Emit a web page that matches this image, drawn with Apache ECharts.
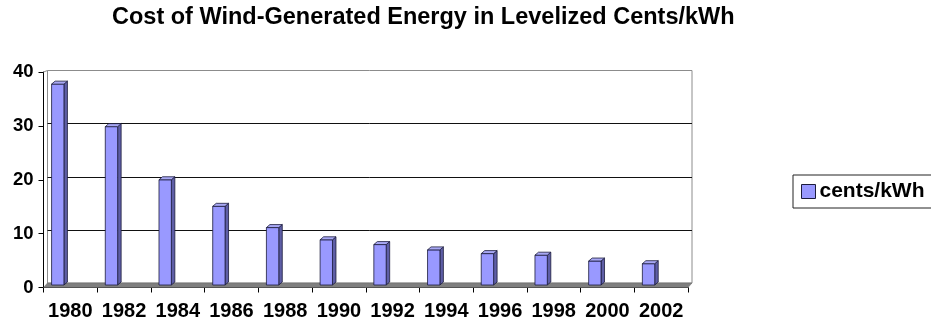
<!DOCTYPE html>
<html>
<head>
<meta charset="utf-8">
<script src="https://cdn.jsdelivr.net/npm/echarts@6/dist/echarts.min.js"></script>
<style>
  html, body { margin: 0; padding: 0; background: #fff; }
  #chart { width: 931px; height: 328px; }
</style>
</head>
<body>
<div id="chart"></div>
<script>
// Levelized cost of wind-generated energy, cents/kWh
const years = ['1980', '1982', '1984', '1986', '1988', '1990', '1992', '1994', '1996', '1998', '2000', '2002'];
const cents = [38, 30, 20, 15, 11, 8.7, 7.8, 6.8, 6.1, 5.8, 4.7, 4.2];
const seriesName = 'cents/kWh';
const yMax = 40;
const yStep = 10;

const FONT = '"Liberation Sans", Arial, sans-serif';

// Front plane (axes) and back wall, offset to fake the 3-D depth
const front = { left: 43.5, top: 72, width: 644.5, height: 215.5 };
const depth = { dx: 4, dy: -4.5 };
const back = {
  left: front.left + depth.dx,
  top: 70.5,
  width: front.width,
  height: front.top + front.height + depth.dy - 70.5
};

const chart = echarts.init(document.getElementById('chart'), null, { renderer: 'canvas' });

// 3-D column: front face, darker side face, lighter cap
function renderColumn(params, api) {
  const i = api.value(0);
  const v = api.value(1);
  const top = api.coord([i, v]);
  const base = api.coord([i, 0]);
  const cw = api.size([1, 0])[0];
  const L = top[0] - cw * 0.424;
  const W = cw * 0.23;
  const D = 3.5, H = 3;
  const fTop = top[1] + H;
  const fBot = base[1] + 2;
  const edge = { stroke: '#1c1c3c', lineWidth: 0.8 };
  return {
    type: 'group',
    children: [
      { type: 'polygon', shape: { points: [[L + W, fTop], [L + W + D, top[1]], [L + W + D, fBot - H], [L + W, fBot]] },
        style: Object.assign({ fill: '#5e5ea6' }, edge) },
      { type: 'rect', shape: { x: L, y: fTop, width: W, height: fBot - fTop },
        style: Object.assign({ fill: '#9999ff' }, edge) },
      { type: 'polygon', shape: { points: [[L, fTop], [L + D, top[1]], [L + W + D, top[1]], [L + W, fTop]] },
        style: Object.assign({ fill: '#a8a8f4' }, edge) }
    ]
  };
}

const fL = front.left, fR = front.left + front.width, fB = front.top + front.height;

chart.setOption({
  animation: false,
  backgroundColor: '#ffffff',
  title: {
    text: 'Cost of Wind-Generated Energy in Levelized Cents/kWh',
    left: 112,
    top: 5.5,
    padding: 0,
    textStyle: { fontFamily: FONT, fontSize: 23.5, fontWeight: 'bold', color: '#000' }
  },
  legend: {
    left: 793,
    top: 175,
    orient: 'vertical',
    padding: [6, 7, 6, 8],
    borderColor: '#222',
    borderWidth: 1,
    itemWidth: 14,
    itemHeight: 14,
    itemGap: 0,
    data: [{ name: seriesName, icon: 'rect' }],
    itemStyle: { color: '#9999ff', borderColor: '#1c1c3c', borderWidth: 1 },
    textStyle: { fontFamily: FONT, fontSize: 21, fontWeight: 'bold', color: '#000', padding: [0, 0, 0, -1] }
  },
  grid: [
    Object.assign({ outerBoundsMode: 'none', containLabel: false }, front),
    Object.assign({ outerBoundsMode: 'none', containLabel: false, show: true, backgroundColor: '#ffffff',
      borderColor: '#8c8c8c', borderWidth: 1 }, back)
  ],
  xAxis: [
    {
      type: 'category', gridIndex: 0, data: years, boundaryGap: true,
      axisLine: { show: true, lineStyle: { color: '#000', width: 1 } },
      axisTick: { show: true, length: 5, inside: false, lineStyle: { color: '#000' } },
      axisLabel: { margin: 14, interval: 0, fontFamily: FONT, fontSize: 20, fontWeight: 'bold', color: '#000' },
      splitLine: { show: false }
    },
    {
      type: 'category', gridIndex: 1, data: years, boundaryGap: true, show: false
    }
  ],
  yAxis: [
    {
      type: 'value', gridIndex: 0, min: 0, max: yMax, interval: yStep,
      axisLine: { show: true, lineStyle: { color: '#000', width: 1 } },
      axisTick: { show: true, length: 5, inside: false, lineStyle: { color: '#000' } },
      axisLabel: { margin: 10, fontFamily: FONT, fontSize: 18.5, fontWeight: 'bold', color: '#000' },
      splitLine: { show: false }
    },
    {
      type: 'value', gridIndex: 1, min: 0, max: yMax, interval: yStep,
      axisLine: { show: false }, axisTick: { show: false }, axisLabel: { show: false },
      splitLine: { show: true, showMinLine: false, showMaxLine: false, lineStyle: { color: '#111', width: 1 } }
    }
  ],
  graphic: [
    // floor of the plot area
    { type: 'polygon', z: 1, silent: true,
      shape: { points: [[fL, fB], [fL + depth.dx, fB + depth.dy], [fR + depth.dx, fB + depth.dy], [fR, fB]] },
      style: { fill: '#7f7f7f', stroke: '#6a6a6a', lineWidth: 0.5 } },
    // depth edge at the top of the value axis
    { type: 'line', z: 1, silent: true,
      shape: { x1: fL, y1: front.top, x2: fL + depth.dx, y2: back.top },
      style: { stroke: '#8c8c8c', lineWidth: 1 } }
  ],
  series: [
    {
      name: seriesName,
      type: 'custom',
      xAxisIndex: 1,
      yAxisIndex: 1,
      z: 5,
      itemStyle: { color: '#9999ff' },
      renderItem: renderColumn,
      encode: { x: 0, y: 1 },
      data: cents.map((v, i) => [i, v])
    }
  ]
});
</script>
</body>
</html>
